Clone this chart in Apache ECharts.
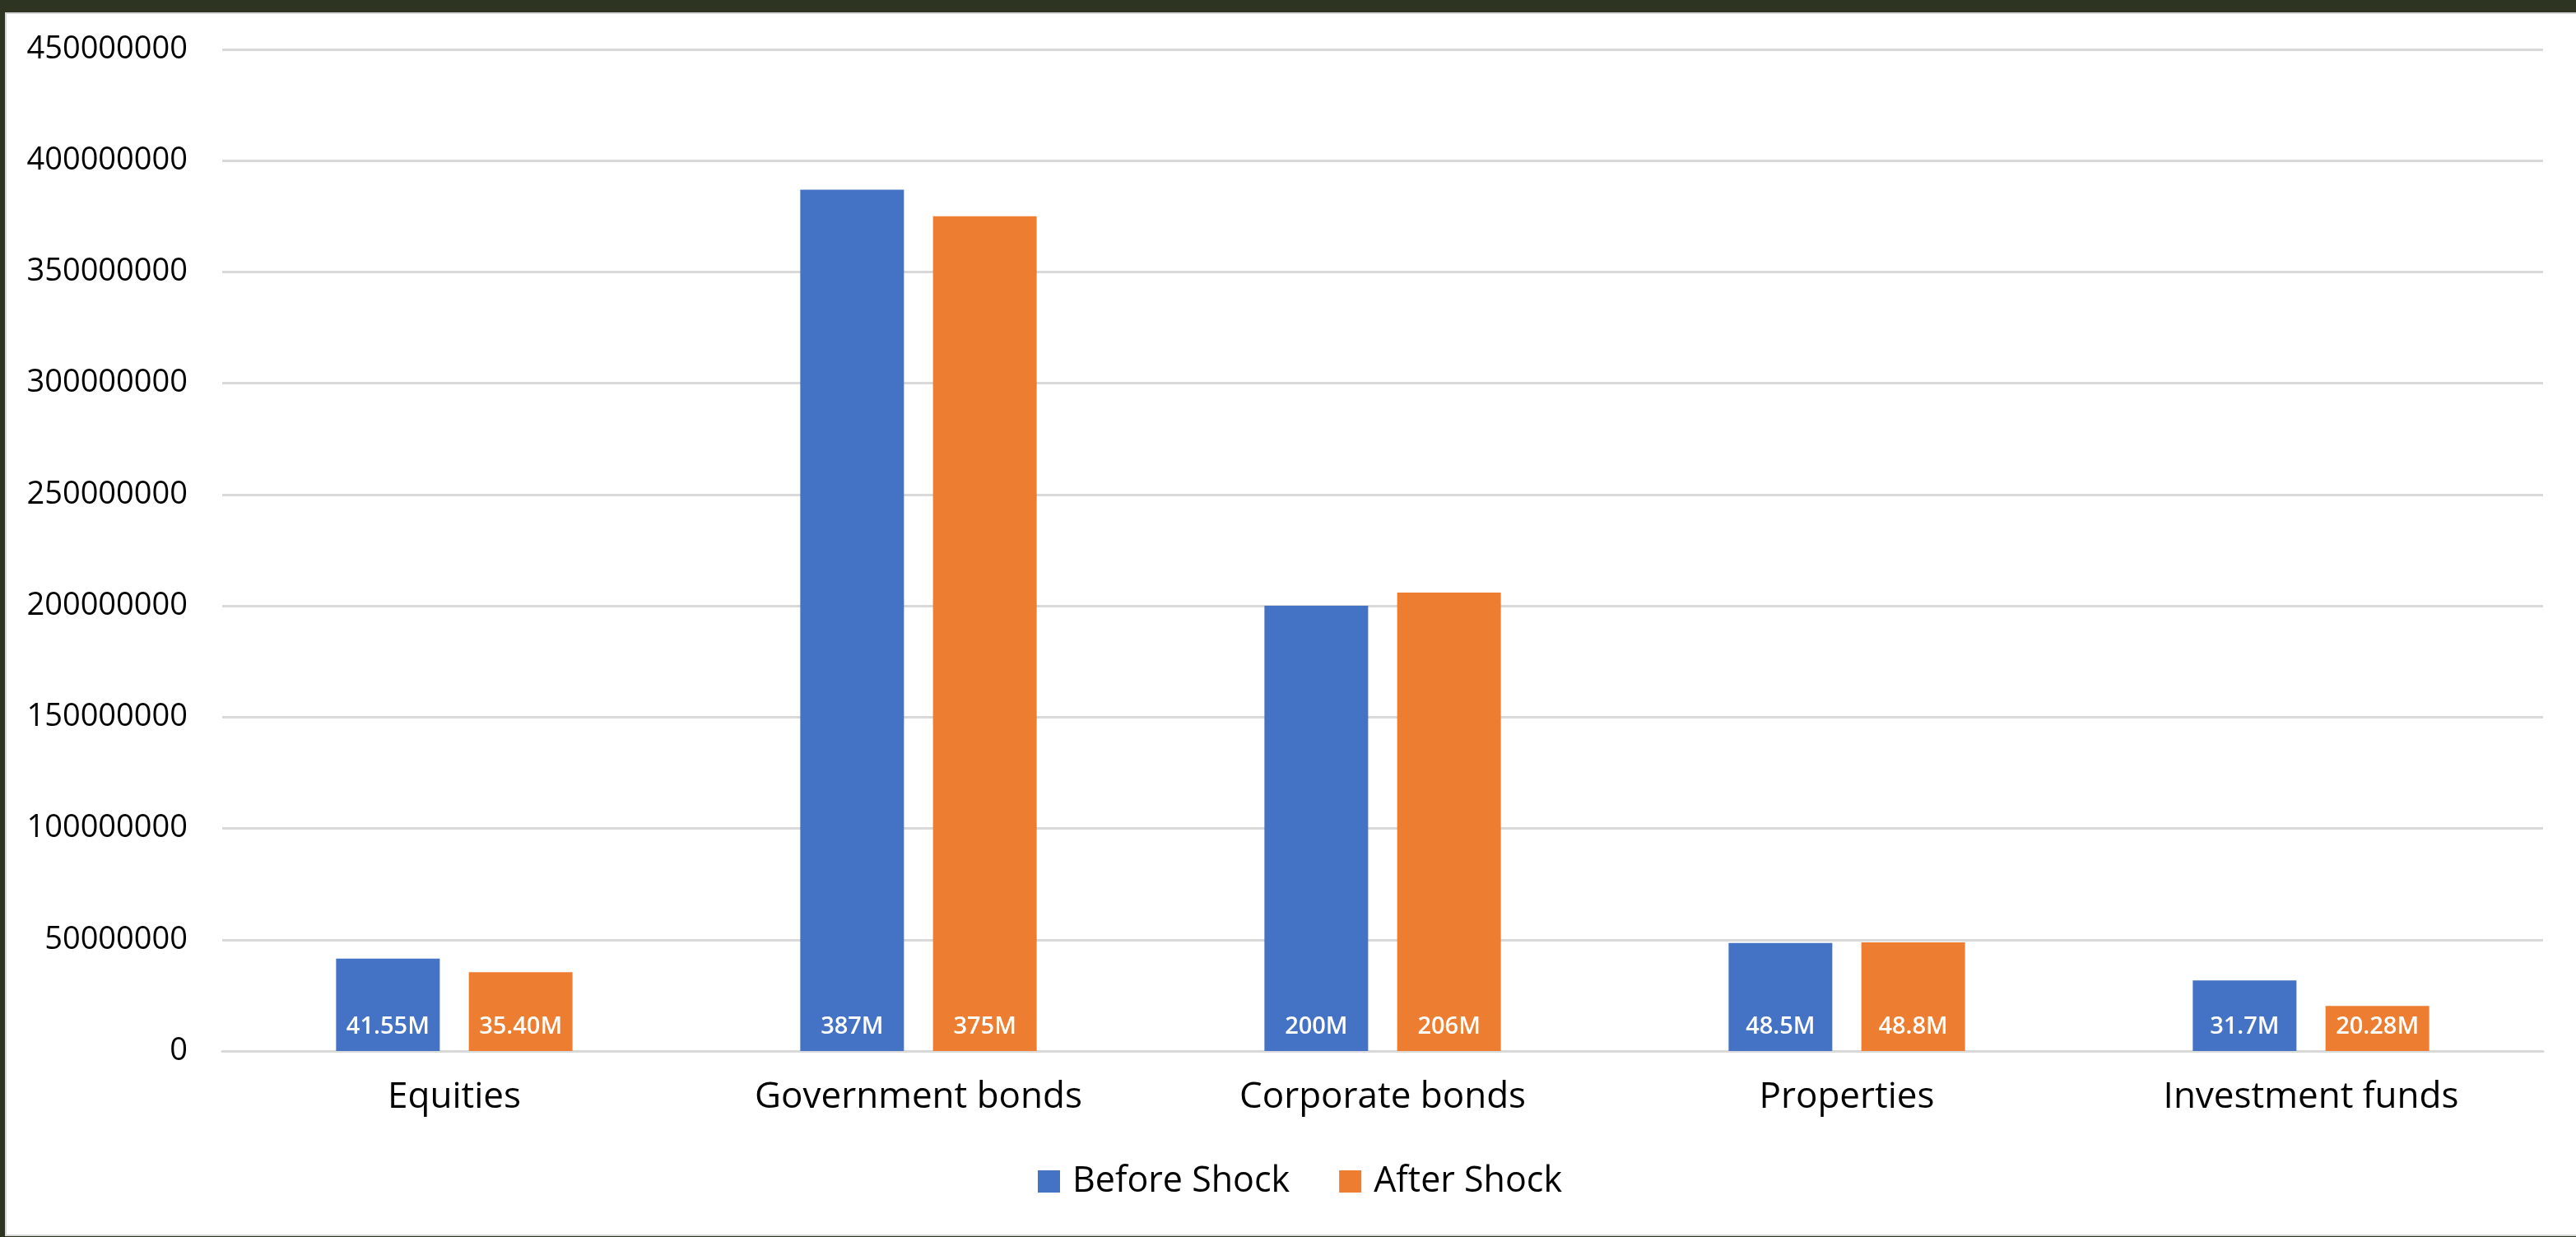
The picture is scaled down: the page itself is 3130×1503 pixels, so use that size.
<!DOCTYPE html>
<html>
<head>
<meta charset="utf-8">
<script src="https://cdn.jsdelivr.net/npm/echarts@6/dist/echarts.min.js"></script>
<style>
  html, body { margin: 0; padding: 0; width: 3130px; height: 1503px; background: #2d3421; overflow: hidden; }
  #panel { position: absolute; left: 6px; top: 15px; width: 3122px; height: 1483px; background: #fff; border: 2px solid #d6d6d6; }
  #chart { position: absolute; left: 0; top: 0; width: 3130px; height: 1503px; }
</style>
</head>
<body>
<div id="panel"></div>
<div id="chart"></div>
<script>
const categories = ['Equities', 'Government bonds', 'Corporate bonds', 'Properties', 'Investment funds'];
const seriesNames = ['Before Shock', 'After Shock'];
const beforeShock = [41550000, 387000000, 200000000, 48500000, 31700000];
const afterShock = [35400000, 375000000, 206000000, 48800000, 20280000];
const beforeLabels = ['41.55M', '387M', '200M', '48.5M', '31.7M'];
const afterLabels = ['35.40M', '375M', '206M', '48.8M', '20.28M'];
const yMin = 0, yMax = 450000000, yInterval = 50000000;

const FONT = '"Open Sans", "Noto Sans", sans-serif';
const chart = echarts.init(document.getElementById('chart'), null, { renderer: 'canvas' });

function barLabel(labels) {
  return {
    show: true,
    position: 'insideBottom',
    distance: 15,
    color: '#ffffff',
    fontFamily: FONT,
    fontSize: 29,
    fontWeight: 600,
    formatter: p => labels[p.dataIndex]
  };
}

chart.setOption({
  animation: false,
  backgroundColor: 'transparent',
  textStyle: { fontFamily: FONT },
  grid: { left: 270, right: 40, top: 60, bottom: 226, containLabel: false },
  legend: {
    data: seriesNames,
    left: 1256,
    top: 1409,
    itemWidth: 27,
    itemHeight: 27,
    itemGap: 60,
    icon: 'rect',
    textStyle: { fontFamily: FONT, fontSize: 43, color: '#000', padding: [0, 0, 0, 10] }
  },
  xAxis: {
    type: 'category',
    data: categories,
    axisLine: { show: true, lineStyle: { color: '#d9d9d9', width: 3 } },
    axisTick: { show: false },
    axisLabel: { fontFamily: FONT, fontSize: 44, color: '#000', margin: 34 }
  },
  yAxis: {
    type: 'value',
    min: yMin,
    max: yMax,
    interval: yInterval,
    axisLine: { show: false },
    axisTick: { show: false },
    splitLine: { lineStyle: { color: '#d9d9d9', width: 3 } },
    axisLabel: { fontFamily: FONT, fontSize: 38, color: '#000', margin: 42, formatter: v => String(v) }
  },
  series: [
    {
      name: seriesNames[0], type: 'bar', data: beforeShock,
      barWidth: 126, barGap: '28%',
      itemStyle: { color: '#4472C4' },
      label: barLabel(beforeLabels)
    },
    {
      name: seriesNames[1], type: 'bar', data: afterShock,
      barWidth: 126, barGap: '28%',
      itemStyle: { color: '#ED7D31' },
      label: barLabel(afterLabels)
    }
  ]
});
</script>
</body>
</html>
